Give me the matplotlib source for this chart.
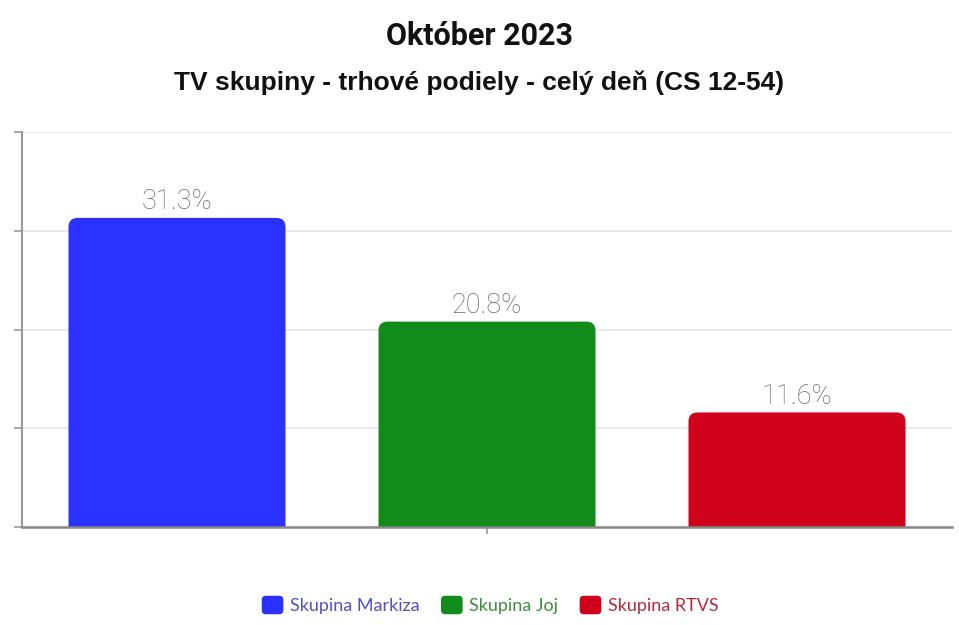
import matplotlib
matplotlib.use('Agg')
import matplotlib.pyplot as plt
from matplotlib.path import Path
from matplotlib.patches import PathPatch, FancyBboxPatch, Patch
from matplotlib.legend_handler import HandlerPatch

categories = ['Skupina Markiza', 'Skupina Joj', 'Skupina RTVS']
values = [31.3, 20.8, 11.6]
value_labels = ['31.3%', '20.8%', '11.6%']
colors = ['#2B31FF', '#118C1A', '#D0021B']
legend_text_colors = ['#5050C8', '#3E8E3E', '#B42A3E']
title = 'Október 2023'
subtitle = 'TV skupiny - trhové podiely - celý deň (CS 12-54)'
y_ticks = [0, 10, 20, 30, 40]

fig = plt.figure(figsize=(9.59, 6.25), dpi=100)
ax = fig.add_axes([22/959, 1-527/625, 930/959, 395/625])
xs = list(range(len(values)))
bars = ax.bar(xs, values, width=0.7, color=colors)
ax.set_xlim(-0.5, 2.5)
ax.set_ylim(0, 40)

# rounded-top bars
rx_px, ry_px = 9, 9
fig.canvas.draw()
sx = ax.transData.transform((1, 0))[0] - ax.transData.transform((0, 0))[0]
sy = ax.transData.transform((0, 1))[1] - ax.transData.transform((0, 0))[1]
rx, ry = rx_px / sx, ry_px / sy
for b in bars:
    x0 = b.get_x(); w = b.get_width(); h = b.get_height(); x1 = x0 + w
    verts = [(x0, 0), (x0, h - ry), (x0, h), (x0 + rx, h), (x1 - rx, h),
             (x1, h), (x1, h - ry), (x1, 0), (x0, 0)]
    codes = [Path.MOVETO, Path.LINETO, Path.CURVE3, Path.CURVE3, Path.LINETO,
             Path.CURVE3, Path.CURVE3, Path.LINETO, Path.CLOSEPOLY]
    pp = PathPatch(Path(verts, codes), facecolor=b.get_facecolor(), edgecolor='none', zorder=2)
    ax.add_patch(pp)
    b.remove()

for x, v, lab in zip(xs, values, value_labels):
    ax.text(x, v + 0.9, lab, ha='center', va='baseline', fontsize=19.5,
            color='#6a6a6a', family='Roboto', fontweight='light')

ax.set_yticks(y_ticks)
ax.set_yticklabels([])
ax.grid(axis='y', color='#e8e8e8', linewidth=1.3, zorder=0)
ax.set_axisbelow(True)
ax.tick_params(axis='y', length=6, color='#999999', width=1.2)
ax.set_xticks([1])
ax.set_xticklabels([])
ax.tick_params(axis='x', length=5, color='#999999', width=1.2)
for s in ['top', 'right']:
    ax.spines[s].set_visible(False)
ax.spines['left'].set_color('#999999')
ax.spines['left'].set_linewidth(1.5)
ax.spines['bottom'].set_color('#888888')
ax.spines['bottom'].set_linewidth(1.8)

fig.text(0.5, 1 - 36/625, title, ha='center', va='center', fontsize=22,
         fontweight='bold', family='Roboto', color='#111111')
fig.text(0.5, 1 - 83/625, subtitle, ha='center', va='center', fontsize=19,
         fontweight='bold', family='Liberation Sans', color='#111111')


class RoundHandler(HandlerPatch):
    def create_artists(self, legend, orig_handle, xdescent, ydescent, width, height, fontsize, trans):
        p = FancyBboxPatch((-xdescent, -ydescent), width, height,
                           boxstyle='round,pad=0,rounding_size=3',
                           facecolor=orig_handle.get_facecolor(), edgecolor='none', transform=trans)
        return [p]


handles = [Patch(facecolor=c, label=n) for c, n in zip(colors, categories)]
leg = fig.legend(handles=handles, loc='center', bbox_to_anchor=(490/959, 1 - 605/625), ncol=3,
                 frameon=False, handlelength=1.2, handleheight=1.2, handletextpad=0.35,
                 columnspacing=1.2, labelcolor=legend_text_colors,
                 prop={'family': 'Lato', 'size': 13},
                 handler_map={Patch: RoundHandler()})

fig.savefig('out.png', dpi=100, facecolor='white')
